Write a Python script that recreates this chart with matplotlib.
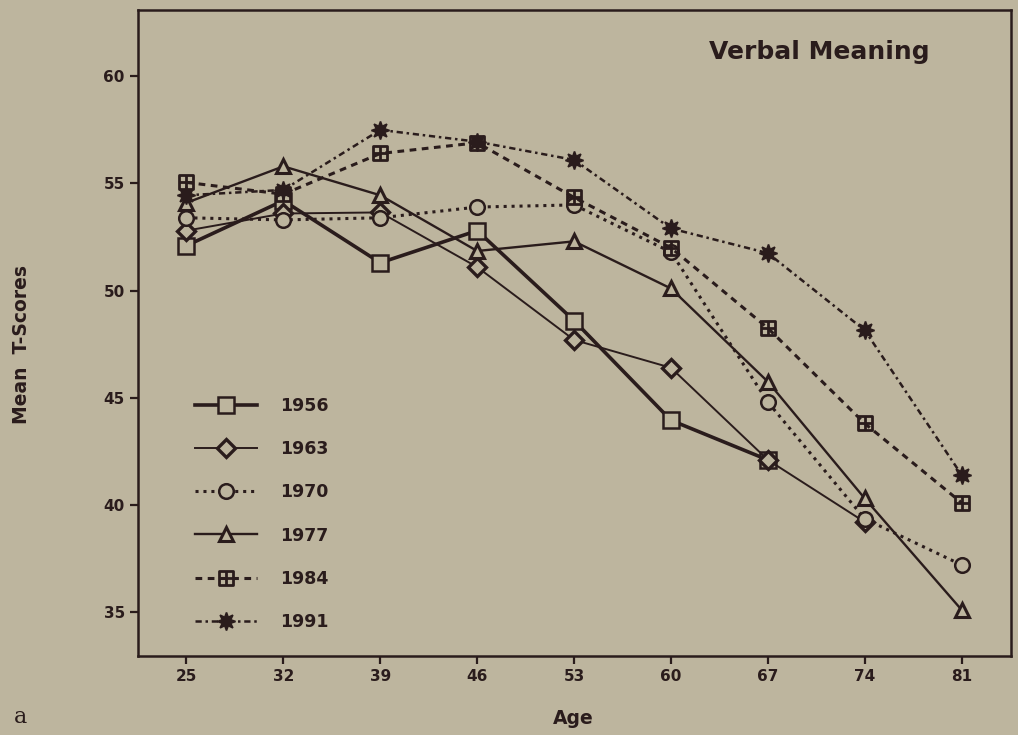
import matplotlib
matplotlib.use("Agg")
import matplotlib.pyplot as plt
from matplotlib.path import Path

# ---- data ----
ages = [25, 32, 39, 46, 53, 60, 67, 74, 81]
y1956 = [52.1, 54.2, 51.3, 52.8, 48.6, 43.95, 42.1]
y1963 = [52.8, 53.6, 53.65, 51.1, 47.7, 46.4, 42.1, 39.2]
y1970 = [53.4, 53.3, 53.4, 53.9, 54.0, 51.8, 44.8, 39.35, 37.2]
y1977 = [54.1, 55.8, 54.45, 51.85, 52.3, 50.1, 45.75, 40.3, 35.1]
y1984 = [55.05, 54.5, 56.4, 56.9, 54.35, 52.0, 48.25, 43.8, 40.1]
y1991 = [54.45, 54.7, 57.5, 56.95, 56.1, 52.9, 51.75, 48.15, 41.4]
xticks = [25, 32, 39, 46, 53, 60, 67, 74, 81]
yticks = [35, 40, 45, 50, 55, 60]

BG = "#bdb59e"
INK = "#2a1c1c"
FONT = 'DejaVu Sans'

fig = plt.figure(figsize=(10.18, 7.35), dpi=100, facecolor=BG)
ax = fig.add_axes([0.1356, 0.1075, 0.858, 0.879])
ax.set_facecolor(BG)

# square-with-cross marker for 1984
verts = [(-1, -1), (1, -1), (1, 1), (-1, 1), (-1, -1),
         (0, -1), (0, 1), (-1, 0), (1, 0)]
codes = [Path.MOVETO, Path.LINETO, Path.LINETO, Path.LINETO, Path.CLOSEPOLY,
         Path.MOVETO, Path.LINETO, Path.MOVETO, Path.LINETO]
boxplus = Path(verts, codes)

common = dict(color=INK, markeredgecolor=INK)
ax.plot(ages[:len(y1956)], y1956, ls='-', lw=2.6, marker='s', ms=11.5,
        mfc=BG, mew=1.8, label='1956', **common)
ax.plot(ages[:len(y1963)], y1963, ls='-', lw=1.4, marker='D', ms=9,
        mfc=BG, mew=2.4, label='1963', **common)
ax.plot(ages, y1970, ls=(0, (1, 1.6)), lw=2.2, marker='o', ms=10.5,
        mfc=BG, mew=1.8, label='1970', **common)
ax.plot(ages, y1977, ls='-', lw=1.7, marker='^', ms=10,
        mfc=BG, mew=2.2, label='1977', **common)
ax.plot(ages, y1984, ls=(0, (2.2, 1.8)), lw=2.2, marker=boxplus, ms=10.5,
        mfc='none', mew=2.0, label='1984', **common)
ax.plot(ages, y1991, ls=(0, (2.5, 1.5, 1, 1.5)), lw=1.8, marker=(8, 1, 0), ms=13,
        mfc=INK, mew=1.2, label='1991', **common)

ax.set_xlim(21.5, 84.6)
ax.set_ylim(32.95, 63.1)
ax.set_xticks(xticks)
ax.set_yticks(yticks)
ax.tick_params(direction='out', length=6, width=1.6, color=INK,
               labelsize=11, labelcolor=INK, top=False, right=False)
for lab in ax.get_xticklabels() + ax.get_yticklabels():
    lab.set_fontweight('bold')
    lab.set_family(FONT)
for s in ax.spines.values():
    s.set_color(INK)
    s.set_linewidth(1.8)

ax.text(0.906, 0.935, 'Verbal Meaning', transform=ax.transAxes, ha='right', va='center',
        fontsize=18, fontweight='bold', family=FONT, color=INK)

fig.text(0.021, 0.531, 'Mean  T-Scores', rotation=90, ha='center', va='center',
         fontsize=13.5, fontweight='bold', family=FONT, color=INK)
fig.text(0.563, 0.022, 'Age', ha='center', va='center',
         fontsize=13.5, fontweight='bold', family=FONT, color=INK)
fig.text(0.02, 0.024, 'a', ha='center', va='center',
         fontsize=16, family='DejaVu Serif', color=INK)

leg = ax.legend(loc='upper left', bbox_to_anchor=(0.047, 0.425), frameon=False,
                handlelength=3.6, handletextpad=1.3, labelspacing=1.45,
                prop=dict(size=12.5, weight='bold', family=FONT))
for t in leg.get_texts():
    t.set_color(INK)

fig.savefig('out.png', dpi=100, facecolor=BG)
